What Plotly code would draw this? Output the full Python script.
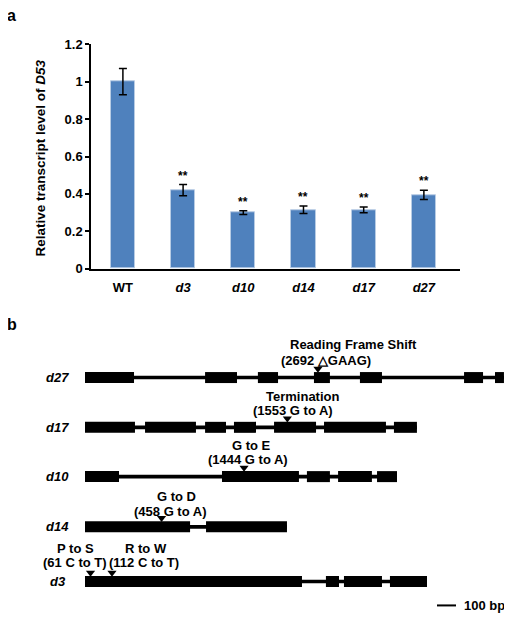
import plotly.graph_objects as go

# ---------------- data ----------------
categories = ["WT", "d3", "d10", "d14", "d17", "d27"]
values = [1.0, 0.42, 0.30, 0.315, 0.315, 0.395]
errors = [0.07, 0.03, 0.01, 0.02, 0.015, 0.025]
signif = ["", "**", "**", "**", "**", "**"]
y_ticks = [0, 0.2, 0.4, 0.6, 0.8, 1.0, 1.2]
y_ticklabels = ["0", "0.2", "0.4", "0.6", "0.8", "1", "1.2"]

# gene models (bp, relative to start of first exon)
genes = ["d27", "d17", "d10", "d14", "d3"]
exons = {
    "d27": [(0, 258), (632, 800), (910, 1016), (1205, 1289), (1447, 1563), (1995, 2095), (2158, 2205)],
    "d17": [(0, 263), (316, 584), (632, 742), (784, 900), (995, 1216), (1258, 1584), (1626, 1747)],
    "d10": [(0, 179), (721, 1126), (1168, 1289), (1332, 1510), (1537, 1642)],
    "d14": [(0, 553), (637, 1063)],
    "d3": [(0, 1142), (1268, 1337), (1363, 1563), (1605, 1800)],
}
mutations = {
    "d27": [(1226, "Reading Frame Shift", "(2692 △GAAG)")],
    "d17": [(1065, "Termination", "(1553 G to A)")],
    "d10": [(837, "G to E", "(1444 G to A)")],
    "d14": [(403, "G to D", "(458 G to A)")],
    "d3": [(29, "P to S", "(61 C to T)"), (142, "R to W", "(112 C to T)")],
}
scale_bp = 100

# ---------------- layout constants ----------------
OFF = 8                      # page body margin of the html page
W, H = 512 - OFF, 631 - OFF  # figure size
FONT = "Liberation Sans, Arial, sans-serif"
BAR_COLOR = "#4f81bd"
BP_PER_PX = 100 / 19.0
GENE_X0_PX = 85
row_px = {"d27": 379.5, "d17": 430.5, "d10": 481, "d14": 532.5, "d3": 588.5}
# text offsets in px: (line1 dx, line2 dx) and (line1 dy, line2 dy)
text_dx = {
    "d27": [(36, 8.5)],
    "d17": [(15.5, 6)],
    "d10": [(7, 4)],
    "d14": [(14.5, 8)],
    "d3": [(-15.5, -15.5), (34.5, 32)],
}
text_dy = {
    "d27": (-33.5, -17.5),
    "d17": (-32, -17.5),
    "d10": (-32, -17.5),
    "d14": (-31, -16),
    "d3": (-34, -19.5),
}


def px_x(p):
    return (p - OFF) / W


def px_y(p):
    return 1 - (p - OFF) / H


fig = go.Figure()

# ---- panel a: bar chart ----
fig.add_trace(go.Bar(
    x=list(range(len(categories))), y=values,
    width=0.4,
    marker=dict(color=BAR_COLOR, line=dict(color="#b8cce4", width=1)),
    error_y=dict(type="data", array=errors, visible=True, color="black",
                 thickness=1.5, width=4),
    xaxis="x", yaxis="y", showlegend=False, hoverinfo="skip",
))

ticktext = ["<b>%s</b>" % c if c == "WT" else "<b><i>%s</i></b>" % c for c in categories]

annotations = []
for i, (v, e, s) in enumerate(zip(values, errors, signif)):
    if s:
        annotations.append(dict(x=i, y=v + e, xref="x", yref="y", text="<b>%s</b>" % s,
                                showarrow=False, yanchor="bottom", yshift=0,
                                font=dict(family=FONT, size=12, color="black")))

annotations.append(dict(x=px_x(40), y=px_y(155), xref="paper", yref="paper",
                        text="<b>Relative transcript level of <i>D53</i></b>",
                        textangle=-90, showarrow=False, xanchor="center", yanchor="middle",
                        font=dict(family=FONT, size=13.5, color="black")))
annotations.append(dict(x=px_x(11), y=px_y(8), xref="paper", yref="paper",
                        text="<b>a</b>", showarrow=False, xanchor="center", yanchor="middle",
                        font=dict(family=FONT, size=16, color="black")))
annotations.append(dict(x=px_x(11.5), y=px_y(325), xref="paper", yref="paper",
                        text="<b>b</b>", showarrow=False, xanchor="center", yanchor="middle",
                        font=dict(family=FONT, size=16, color="black")))

# ---- panel b: gene models ----
shapes = []
for g in genes:
    ex = exons[g]
    yrow = row_px[g]
    start, end = ex[0][0], ex[-1][1]
    shapes.append(dict(type="rect", xref="x2", yref="y2", x0=start, x1=end,
                       ysizemode="pixel", yanchor=yrow, y0=-1.8, y1=1.8,
                       fillcolor="black", line=dict(width=0)))
    for a, b in ex:
        shapes.append(dict(type="rect", xref="x2", yref="y2", x0=a, x1=b,
                           ysizemode="pixel", yanchor=yrow, y0=-5.5, y1=5.5,
                           fillcolor="black", line=dict(width=0)))
    annotations.append(dict(x=-27.5 * BP_PER_PX, y=yrow, xref="x2", yref="y2",
                            text="<b><i>%s</i></b>" % g, showarrow=False,
                            xanchor="center", yanchor="middle",
                            font=dict(family=FONT, size=13, color="black")))
    mx = [m[0] for m in mutations[g]]
    fig.add_trace(go.Scatter(
        x=mx, y=[yrow - 9] * len(mx), mode="markers",
        marker=dict(symbol="triangle-down", size=8, color="black", line=dict(width=0)),
        xaxis="x2", yaxis="y2", showlegend=False, hoverinfo="skip"))
    dy1, dy2 = text_dy[g]
    for (pos, l1, l2), (d1, d2) in zip(mutations[g], text_dx[g]):
        annotations.append(dict(x=pos, y=yrow + dy1, xref="x2", yref="y2",
                                text="<b>%s</b>" % l1, showarrow=False,
                                xshift=d1, xanchor="center", yanchor="middle",
                                font=dict(family=FONT, size=13, color="black")))
        annotations.append(dict(x=pos, y=yrow + dy2, xref="x2", yref="y2",
                                text="<b>%s</b>" % l2, showarrow=False,
                                xshift=d2, xanchor="center", yanchor="middle",
                                font=dict(family=FONT, size=13, color="black")))

# scale bar
sb_x0 = (437 - GENE_X0_PX) * BP_PER_PX
shapes.append(dict(type="line", xref="x2", yref="y2", x0=sb_x0, x1=sb_x0 + scale_bp,
                   y0=613, y1=613, line=dict(color="black", width=2)))
annotations.append(dict(x=sb_x0 + scale_bp, y=613, xref="x2", yref="y2",
                        text="<b>%d bp</b>" % scale_bp, showarrow=False,
                        xanchor="left", xshift=6, yanchor="middle",
                        font=dict(family=FONT, size=13, color="black")))

fig.update_layout(
    width=W, height=H,
    margin=dict(l=0, r=0, t=0, b=0),
    paper_bgcolor="white", plot_bgcolor="rgba(0,0,0,0)",
    font=dict(family=FONT, size=13, color="black"),
    bargap=0,
    xaxis=dict(domain=[px_x(91), px_x(460)], range=[-0.53, 5.6],
               tickmode="array", tickvals=list(range(len(categories))),
               ticktext=ticktext, showline=True, linecolor="black", linewidth=1.5,
               ticks="", showgrid=False, zeroline=False, ticklabelstandoff=6,
               tickfont=dict(family=FONT, size=13, color="black"), fixedrange=True),
    yaxis=dict(domain=[px_y(268), px_y(38)], range=[0, 1.2],
               tickmode="array", tickvals=y_ticks,
               ticktext=["<b>%s</b>" % t for t in y_ticklabels],
               showline=True, linecolor="black", linewidth=1.5,
               ticks="outside", ticklen=4, tickwidth=1.5, tickcolor="black",
               showgrid=False, zeroline=False,
               tickfont=dict(family=FONT, size=13, color="black"), fixedrange=True),
    xaxis2=dict(domain=[0, 1],
                range=[(OFF - GENE_X0_PX) * BP_PER_PX, (512 - GENE_X0_PX) * BP_PER_PX],
                visible=False, fixedrange=True),
    yaxis2=dict(domain=[0, 1], range=[631, OFF], visible=False, fixedrange=True),
    shapes=shapes,
    annotations=annotations,
)

fig.write_html("out.html")
